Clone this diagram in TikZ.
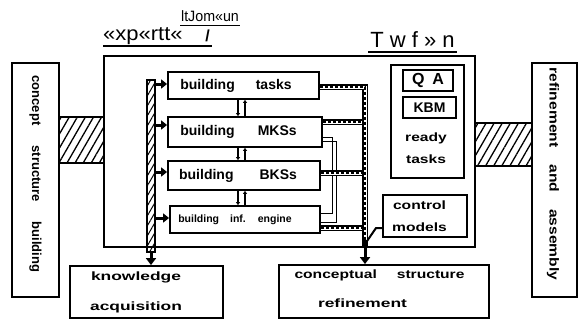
\documentclass[tikz,border=0pt]{standalone}
\usepackage{fontspec}
\setmainfont{Liberation Sans}
\newfontfamily\hand{Liberation Sans}
\newfontfamily\handw[FakeStretch=1.3]{Liberation Sans}
\newfontfamily\handr[FakeStretch=1.2]{Liberation Sans}
\usetikzlibrary{patterns.meta,arrows.meta,calc}
\begin{document}
\begin{tikzpicture}[x=1pt,y=-1pt,
  box/.style={draw,line width=1.8pt,inner sep=0pt,anchor=center},
  two/.style={align=center,font=\handw\bfseries\fontsize{12}{#1}\selectfont,inner sep=0pt},
  one/.style={font=\handw\bfseries\fontsize{12}{12}\selectfont,inner sep=0pt},
  hatch/.style={pattern={Lines[angle=60,distance=7pt,line width=1.3pt]}},
  branch/.style={line width=3pt,-{Triangle[length=6pt,width=9pt]}},
  updown/.style={line width=1.1pt,-{Triangle[length=3pt,width=4pt]}},
  rail/.style={line width=6pt,postaction={draw,white,line width=3pt},
    postaction={draw,black,line width=1.4pt,dash pattern=on 3pt off 2pt}},
  thinl/.style={line width=1pt},
  ul/.style={line width=1.3pt}]
\useasboundingbox (0,0) rectangle (578,321);

% top labels
\node[font=\fontsize{20}{20}\selectfont,anchor=base west,inner sep=0pt] (t1) at (103,41) {\scalebox{1.1}[1]{«xp«rtt«}};
\draw[ul] (103,46) -- (212,46);
\node[font=\fontsize{15}{15}\selectfont,anchor=base,inner sep=0pt] (t2) at (210,22) {\scalebox{0.95}[1]{ltJom«un}};
\draw[ul] (180,25.5) -- (240,25.5);
\node[font=\fontsize{16}{16}\selectfont\bfseries,inner sep=0pt] (t3) at (207.5,36) {/};
\node[font=\fontsize{22}{22}\selectfont,anchor=base,inner sep=0pt] (t4) at (412.5,48) {T w f » n};
\draw[ul] (368,52) -- (457,52);

% side boxes
\node[box,minimum width=47pt,minimum height=234pt] (csb) at (35.5,180) {};
\node[font=\hand\bfseries\fontsize{13}{13}\selectfont,inner sep=0pt,rotate=-90] (csbt) at (35.5,174) {\spaceskip=20pt concept structure building};
\node[box,minimum width=45pt,minimum height=234pt] (rfa) at (554.5,180) {};
\node[font=\handr\bfseries\fontsize{13}{13}\selectfont,inner sep=0pt,rotate=-90] (rfat) at (553,174) {\spaceskip=17pt refinement and assembly};

% main box
\node[box,line width=1.8pt,minimum width=371pt,minimum height=191pt] (main) at (289.5,151.5) {};

% hatched bands
\path[hatch] (csb.east |- 0,117) rectangle (main.west |- 0,163);
\draw[line width=1.8pt] (csb.east |- 0,117) -- (main.west |- 0,117);
\draw[line width=1.8pt] (csb.east |- 0,163) -- (main.west |- 0,163);
\path[hatch] (main.east |- 0,123) rectangle (rfa.west |- 0,166);
\draw[line width=1.8pt] (main.east |- 0,123) -- (rfa.west |- 0,123);
\draw[line width=1.8pt] (main.east |- 0,166) -- (rfa.west |- 0,166);

% inner boxes
\node[box,minimum width=151pt,minimum height=27pt] (tasks) at (243.5,85.5)
  {\hand\bfseries\fontsize{14}{14}\selectfont\spaceskip=21pt building tasks\hspace*{15pt}};
\node[box,minimum width=154pt,minimum height=30pt] (mks) at (245,132)
  {\hand\bfseries\fontsize{14}{14}\selectfont\spaceskip=23pt building MKSs\hspace*{13pt}};
\node[box,minimum width=152pt,minimum height=29pt] (bks) at (244,175.5)
  {\hand\bfseries\fontsize{14}{14}\selectfont\spaceskip=26pt building BKSs\hspace*{12pt}};
\node[box,minimum width=150pt,minimum height=27pt] (inf) at (245,219.5)
  {\hand\bfseries\fontsize{10.5}{11}\selectfont\spaceskip=11pt building inf. engine\hspace*{20pt}};

% ready tasks panel
\node[box,minimum width=73pt,minimum height=113pt] (rt) at (427.5,121.5) {};
\node[box,minimum width=50pt,minimum height=21pt] (qa) at (428,80.5)
  {\hand\bfseries\fontsize{16}{16}\selectfont\spaceskip=8pt Q A};
\node[box,minimum width=53pt,minimum height=21pt] (kbm) at (429.5,107.5)
  {\hand\bfseries\fontsize{14}{14}\selectfont KBM};
\node[two=22] (rtl) at (426,148) {ready\\tasks};
\node[box,minimum width=84pt,minimum height=42pt] (cm) at (425,216) {};
\node[two=22] (cml) at (419.5,216) {control\\models};

% lower boxes
\node[box,minimum width=153pt,minimum height=52pt] (ka) at (146.5,292) {};
\node[two=30,font=\handw\bfseries\fontsize{12}{30}\selectfont\addfontfeature{FakeStretch=1.45}] (kal) at (136,292) {knowledge\\acquisition};
\node[box,minimum width=210pt,minimum height=53pt] (csr) at (384,291.5) {};
\node[one] (csr1) at (379.5,275) {conceptual\hspace{20pt}structure};
\node[one,font=\handw\bfseries\fontsize{12}{12}\selectfont\addfontfeature{FakeStretch=1.45}] (csr2) at (362.5,303) {refinement};

% left bus
\coordinate (bust) at (151,80);
\coordinate (busb) at (151,252);
\path[draw,line width=1.3pt,pattern={Lines[angle=60,distance=5pt,line width=1pt]}]
  (147,80) rectangle (155,252);
\draw[line width=3pt,-{Triangle[length=7pt,width=10pt]}] (busb) -- (busb |- ka.north);
\foreach \n/\y in {tasks/84,mks/125,bks/172,inf/218}
  \draw[branch] (155,\y) -- (\n.west |- 155,\y);

% between boxes
\foreach \a/\b in {tasks/mks,mks/bks,bks/inf}{
  \draw[updown] (\a.south -| 238,0) -- (\b.north -| 238,0);
  \draw[updown] (\b.north -| 245,0) -- (\a.south -| 245,0);
}

% MKSs thin links
\draw[thinl] (mks.east |- 0,137) -- (332,137) -- (332,213) -- (inf.east |- 0,213);
\draw[thinl] (mks.east |- 0,141) -- (336,141) -- (336,222) -- (inf.east |- 0,222);

% right rail
\coordinate (rt0) at (365,87);
\coordinate (rb) at (365,247);
\coordinate (ra) at (365,240);
\draw[rail] (mks.east |- 0,122) -- (365,122);
\draw[rail] (bks.east |- 0,173) -- (365,173);
\draw[rail] (inf.east |- 0,228) -- (365,228);
\draw[rail] (tasks.east |- 0,87) -- (rt0) -- (rb);
\coordinate (j) at (365,244);
\draw[line width=2pt] (cm.west |- 0,228) -- (376,228) -- (j);
\draw[line width=3pt,-{Triangle[length=7pt,width=10pt]}] (ra) -- (ra |- csr.north);
\end{tikzpicture}
\end{document}
